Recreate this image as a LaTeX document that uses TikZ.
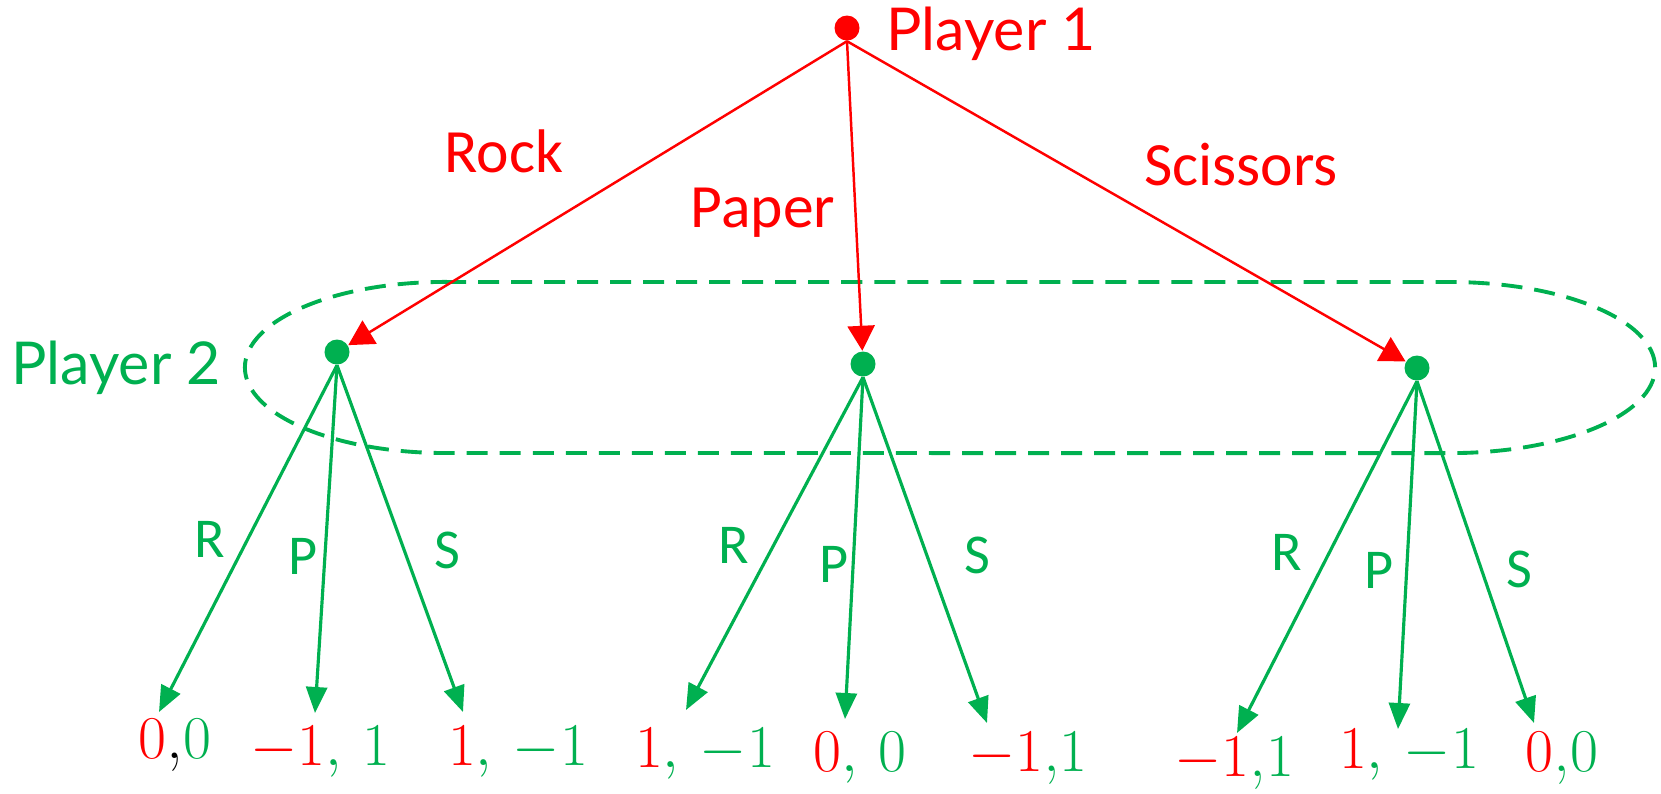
\documentclass[tikz,border=0pt]{standalone}
\usepackage{fontspec}
\newfontfamily\gillfont{Lato}
\newfontfamily\calfont{Carlito}
\usetikzlibrary{arrows.meta}
\definecolor{pred}{RGB}{255,0,0}
\definecolor{pgreen}{RGB}{0,176,80}
\newcommand{\redv}[1]{\textcolor{pred}{$#1$}}
\newcommand{\grnv}[1]{\textcolor{pgreen}{$#1$}}

\tikzset{dot/.style={circle, fill, inner sep=0pt, minimum size=0.25cm},
  plyr/.style={font=\gillfont\fontsize{16.8}{20}\selectfont},
  mv/.style={font=\calfont\fontsize{17.5}{20}\selectfont, text=pred},
  mvs/.style={font=\calfont\fontsize{16}{19}\selectfont, text=pgreen},
  pay/.style={font=\fontsize{19}{22}\selectfont, inner sep=1pt},
  rtip/.style={-{Triangle[length=0.25cm, width=0.27cm]}, pred, line width=0.7pt},
  gtip/.style={-{Triangle[length=0.26cm, width=0.21cm]}, pgreen, line width=0.9pt}}

\begin{document}
\begin{tikzpicture}[x=0.01cm, y=-0.01cm]
  \useasboundingbox (0,0) rectangle (1661,793);

  % players
  \node[dot, pred] (root) at (847,28) {};
  \node[plyr, text=pred] (p1) at (991,34) {Player 1};
  \node[dot, pgreen] (a) at (337,352) {};
  \node[dot, pgreen] (b) at (863,364) {};
  \node[dot, pgreen] (c) at (1417,368) {};
  \node[plyr, text=pgreen] (p2) at (116,368) {Player 2};

  % information set
  \draw[pgreen, line width=1.1pt, dash pattern=on 0.21cm off 0.12cm]
    (445,282) -- (1450,282) arc[start angle=90, end angle=-90, x radius=2.05cm, y radius=0.855cm]
    -- (445,453) arc[start angle=-90, end angle=-270, x radius=2cm, y radius=0.855cm] -- cycle;

  % first moves
  \draw[rtip] (root.south) -- (a);
  \draw[rtip] (root.south) -- (b);
  \draw[rtip] (root.south) -- (c);
  \node[mv] (rock) at (504,151) {Rock};
  \node[mv] (paper) at (763,213) {Paper};
  \node[mv] (sciss) at (1241,165) {Scissors};

  % second moves
  \coordinate (aR) at (159,712); \coordinate (aP) at (315,713); \coordinate (aS) at (463,712);
  \coordinate (bR) at (686,710); \coordinate (bP) at (845,719); \coordinate (bS) at (987,723);
  \coordinate (cR) at (1237,733); \coordinate (cP) at (1398,729); \coordinate (cS) at (1534,723);
  \foreach \n in {a,b,c}{
    \foreach \m in {R,P,S}
      \draw[gtip] (\n.south) -- (\n\m);
  }
  \node[mvs] (laR) at (210,539) {R};  \node[mvs] (laP) at (303,556) {P};  \node[mvs] (laS) at (447,550) {S};
  \node[mvs] (lbR) at (734,545) {R};  \node[mvs] (lbP) at (834,564) {P};  \node[mvs] (lbS) at (977,555) {S};
  \node[mvs] (lcR) at (1287,552) {R}; \node[mvs] (lcP) at (1379,570) {P}; \node[mvs] (lcS) at (1519,569) {S};

  % payoffs
  \node[pay] (z1) at (175,745) {\redv{0},\grnv{0}};
  \node[pay] (z2) at (320,752) {\redv{-1}\grnv{,\,1}};
  \node[pay] (z3) at (518,752) {\redv{1}\grnv{,\,-1}};
  \node[pay] (z4) at (705,754) {\redv{1}\grnv{,\,-1}};
  \node[pay] (z5) at (860,758) {\redv{0}\grnv{,\,0}};
  \node[pay] (z6) at (1028,758) {\redv{-1}\textcolor{pgreen}{,}\grnv{1}};
  \node[pay] (z7) at (1234,763) {\redv{-1}\textcolor{pgreen}{,}\grnv{1}};
  \node[pay] (z8) at (1409,755) {\redv{1}\grnv{,\,-1}};
  \node[pay] (z9) at (1562,758) {\redv{0}\textcolor{pgreen}{,}\grnv{0}};
\end{tikzpicture}
\end{document}
